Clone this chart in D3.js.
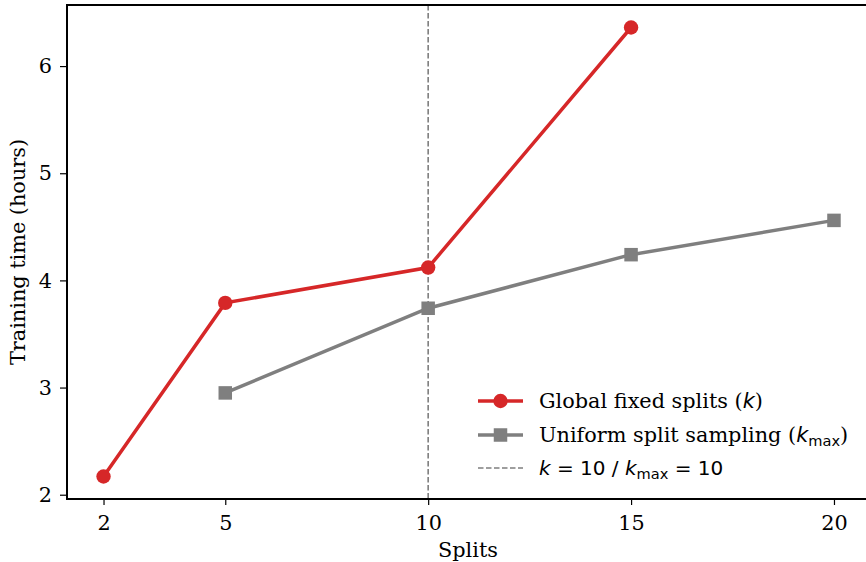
<!DOCTYPE html>
<html><head><meta charset="utf-8">
<script src="https://cdn.jsdelivr.net/npm/d3@7"></script>
<style>body{margin:0;background:#fff}svg{display:block}</style>
</head><body>
<svg id="c" width="866" height="562"></svg>
<script>
const splitsGlobal = [2, 5, 10, 15];
const timeGlobal = [2.17, 3.79, 4.12, 6.36];
const splitsUniform = [5, 10, 15, 20];
const timeUniform = [2.95, 3.74, 4.24, 4.56];
const xTicks = [2, 5, 10, 15, 20];
const yTicks = [2, 3, 4, 5, 6];
const refSplit = 10;

const svg = d3.select("#c");
const L = 67, R = 870.5, T = 5, B = 499;
const x = d3.scaleLinear().domain([1.1, 20.9]).range([L, R]);
const y = d3.scaleLinear().domain([1.96, 6.57]).range([B, T]);
const serif = "DejaVu Serif";
const sans = "DejaVu Sans";
const red = "#d62728", gray = "#7f7f7f";
const FS = 20.8, MR = 7.2, SQ = 13.5, LW = 3.5;

// reference line
svg.append("line").attr("x1", x(refSplit)).attr("x2", x(refSplit))
  .attr("y1", T).attr("y2", B).attr("stroke", gray).attr("stroke-width", 1.6)
  .attr("stroke-dasharray", "5.5,2.5");

const line = d3.line().x(d => x(d[0])).y(d => y(d[1]));
const g1 = splitsGlobal.map((s, i) => [s, timeGlobal[i]]);
const g2 = splitsUniform.map((s, i) => [s, timeUniform[i]]);

svg.append("path").datum(g2).attr("d", line).attr("fill", "none")
  .attr("stroke", gray).attr("stroke-width", LW);
svg.selectAll(".sq").data(g2).enter().append("rect")
  .attr("x", d => x(d[0]) - SQ / 2).attr("y", d => y(d[1]) - SQ / 2)
  .attr("width", SQ).attr("height", SQ).attr("fill", gray);

svg.append("path").datum(g1).attr("d", line).attr("fill", "none")
  .attr("stroke", red).attr("stroke-width", LW);
svg.selectAll(".ci").data(g1).enter().append("circle")
  .attr("cx", d => x(d[0])).attr("cy", d => y(d[1])).attr("r", MR).attr("fill", red);

// axes
const xa = svg.append("g").attr("transform", `translate(0,${B})`)
  .call(d3.axisBottom(x).tickValues(xTicks).tickSize(6).tickPadding(10).tickFormat(d3.format("d")));
const ya = svg.append("g").attr("transform", `translate(${L},0)`)
  .call(d3.axisLeft(y).tickValues(yTicks).tickSize(7).tickPadding(8).tickFormat(d3.format("d")));
[xa, ya].forEach(a => {
  a.select(".domain").remove();
  a.selectAll("line").attr("stroke", "#000").attr("stroke-width", 1.2);
  a.selectAll("text").attr("font-family", serif).attr("font-size", FS).attr("fill", "#000");
});
svg.append("rect").attr("x", L).attr("y", T).attr("width", R - L).attr("height", B - T)
  .attr("fill", "none").attr("stroke", "#000").attr("stroke-width", 2);

svg.append("text").attr("x", 468).attr("y", 557).attr("text-anchor", "middle")
  .attr("font-family", serif).attr("font-size", FS).text("Splits");
svg.append("text").attr("transform", `translate(25,252) rotate(-90)`)
  .attr("text-anchor", "middle").attr("font-family", serif).attr("font-size", FS)
  .text("Training time (hours)");

// legend
const lg = svg.append("g");
const lx0 = 478, lx1 = 523, tx = 539;
const rows = [401, 435, 468];
const mx = (lx0 + lx1) / 2;
lg.append("line").attr("x1", lx0).attr("x2", lx1).attr("y1", rows[0]).attr("y2", rows[0])
  .attr("stroke", red).attr("stroke-width", LW);
lg.append("circle").attr("cx", mx).attr("cy", rows[0]).attr("r", MR).attr("fill", red);
lg.append("line").attr("x1", lx0).attr("x2", lx1).attr("y1", rows[1]).attr("y2", rows[1])
  .attr("stroke", gray).attr("stroke-width", LW);
lg.append("rect").attr("x", mx - SQ / 2).attr("y", rows[1] - SQ / 2)
  .attr("width", SQ).attr("height", SQ).attr("fill", gray);
lg.append("line").attr("x1", lx0).attr("x2", lx1).attr("y1", rows[2]).attr("y2", rows[2])
  .attr("stroke", gray).attr("stroke-width", 1.6).attr("stroke-dasharray", "5.5,2.5");

const off = 7, subFS = 14.6, subDy = 4;
const t1 = lg.append("text").attr("x", tx).attr("y", rows[0] + off).attr("font-size", FS).attr("font-family", serif);
t1.append("tspan").text("Global fixed splits (");
t1.append("tspan").attr("font-family", sans).attr("font-style", "italic").text("k");
t1.append("tspan").text(")");

const t2 = lg.append("text").attr("x", tx).attr("y", rows[1] + off).attr("font-size", FS).attr("font-family", serif);
t2.append("tspan").text("Uniform split sampling (");
t2.append("tspan").attr("font-family", sans).attr("font-style", "italic").text("k");
t2.append("tspan").attr("font-family", sans).attr("font-size", subFS).attr("dy", subDy).text("max");
t2.append("tspan").attr("dy", -subDy).text(")");

const t3 = lg.append("text").attr("x", tx).attr("y", rows[2] + off).attr("font-size", 20).attr("font-family", sans);
t3.append("tspan").attr("font-style", "italic").text("k");
t3.append("tspan").text(" = 10 / ");
t3.append("tspan").attr("font-style", "italic").text("k");
t3.append("tspan").attr("font-size", subFS).attr("dy", subDy).text("max");
t3.append("tspan").attr("dy", -subDy).text(" = 10");
</script>
</body></html>
